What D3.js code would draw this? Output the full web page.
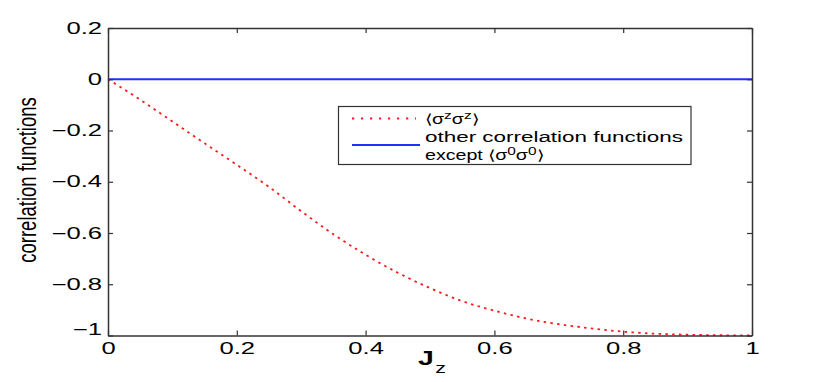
<!DOCTYPE html>
<html>
<head>
<meta charset="utf-8">
<script src="https://cdn.jsdelivr.net/npm/d3@7"></script>
<style>
  body { margin: 0; background: #fff; }
  svg text { font-family: "Liberation Sans", Arial, sans-serif; }
</style>
</head>
<body>
<svg id="chart" width="831" height="382"></svg>
<script>
// values
var jz = [0, 0.05, 0.1, 0.15, 0.2, 0.25, 0.3, 0.35, 0.4, 0.45, 0.5,
          0.55, 0.6, 0.65, 0.7, 0.75, 0.8, 0.85, 0.9, 0.95, 1];
var szsz = [0, -0.08, -0.165, -0.25, -0.334, -0.42, -0.515, -0.605, -0.685, -0.755, -0.815,
            -0.866, -0.903, -0.934, -0.956, -0.972, -0.985, -0.993, -0.997, -0.999, -1];
var others = [0, 0, 0, 0, 0, 0, 0, 0, 0, 0, 0, 0, 0, 0, 0, 0, 0, 0, 0, 0, 0];
var xTicks = [0, 0.2, 0.4, 0.6, 0.8, 1];
var yTicks = [-1, -0.8, -0.6, -0.4, -0.2, 0, 0.2];

var pLeft = 108, pRight = 752, pTop = 28, pBottom = 335.5;
var stretch = 1.6; // figure is widened horizontally

var svg = d3.select("#chart");

var x = d3.scaleLinear().domain([0, 1]).range([pLeft, pRight]);
var y = d3.scaleLinear().domain([-1, 0.2]).range([pBottom, pTop]);

function fmt(d) {
  if (d === 0) return "0";
  if (d === 1 || d === -1) return String(d).replace("-", "\u2212");
  return d3.format(".1f")(d).replace("-", "\u2212");
}

function widen(sel, k) {
  sel.each(function() {
    var w = this.getComputedTextLength();
    d3.select(this).attr("textLength", w * k).attr("lengthAdjust", "spacingAndGlyphs");
  });
}

// blue line (other correlation functions)
var line = d3.line().x(function(d, i) { return x(jz[i]); }).y(function(d) { return y(d); });

svg.append("path")
  .datum(others)
  .attr("d", line)
  .attr("fill", "none")
  .attr("stroke", "#1a33ff")
  .attr("stroke-width", 2);

svg.append("path")
  .datum(szsz)
  .attr("d", d3.line().curve(d3.curveMonotoneX).x(function(d, i) { return x(jz[i]); }).y(function(d) { return y(d); }))
  .attr("fill", "none")
  .attr("stroke", "#ff1a1a")
  .attr("stroke-width", 1.8)
  .attr("stroke-dasharray", "2.5,4.3");

// axes, matlab style box with inward ticks
var axColor = "#333";
var xAxis = svg.append("g").attr("transform", "translate(0," + pBottom + ")")
  .call(d3.axisBottom(x).tickValues(xTicks).tickSizeInner(-5).tickSizeOuter(0).tickPadding(7).tickFormat(fmt));
var xTop = svg.append("g").attr("transform", "translate(0," + pTop + ")")
  .call(d3.axisTop(x).tickValues(xTicks).tickSizeInner(-5).tickSizeOuter(0).tickFormat(""));
var yAxis = svg.append("g").attr("transform", "translate(" + pLeft + ",0)")
  .call(d3.axisLeft(y).tickValues(yTicks).tickSizeInner(-5).tickSizeOuter(0).tickPadding(6).tickFormat(fmt));
var yRight = svg.append("g").attr("transform", "translate(" + pRight + ",0)")
  .call(d3.axisRight(y).tickValues(yTicks).tickSizeInner(-5).tickSizeOuter(0).tickFormat(""));

[xAxis, xTop, yAxis, yRight].forEach(function(g) {
  g.select(".domain").attr("stroke", axColor).attr("stroke-width", 1.5);
  g.selectAll(".tick line").attr("stroke", axColor).attr("stroke-width", 1.2);
});

xAxis.selectAll("text").attr("font-size", 16).attr("fill", "#000").attr("dy", "0.7em");
yAxis.selectAll("text").attr("font-size", 16).attr("fill", "#000");
yAxis.selectAll(".tick").filter(function(d) { return d === -1; }).select("text").attr("dy", "-0.05em");
widen(xAxis.selectAll("text"), stretch);
widen(yAxis.selectAll("text"), stretch);

// axis titles
var xl = svg.append("text")
  .attr("x", 418).attr("y", 365)
  .attr("font-size", 20).attr("font-weight", "bold").attr("fill", "#000");
xl.append("tspan").text("J");
xl.append("tspan").attr("font-size", 15).attr("font-weight", "normal").attr("dy", 8).attr("dx", 1).text("z");
widen(xl, 1.5);

svg.append("g")
  .attr("transform", "translate(36,180) scale(1.35,1) rotate(-90)")
  .append("text")
  .attr("text-anchor", "middle")
  .attr("font-size", 18.5)
  .attr("fill", "#000")
  .text("correlation functions");

// legend
var legend = svg.append("g");
legend.append("rect")
  .attr("x", 338.5).attr("y", 106.5).attr("width", 352.5).attr("height", 58)
  .attr("fill", "#fff").attr("stroke", axColor).attr("stroke-width", 1.2);
legend.append("line")
  .attr("x1", 352).attr("x2", 416).attr("y1", 118.5).attr("y2", 118.5)
  .attr("stroke", "#ff1a1a").attr("stroke-width", 1.8).attr("stroke-dasharray", "2.2,6.8");
legend.append("line")
  .attr("x1", 352).attr("x2", 420).attr("y1", 145).attr("y2", 145)
  .attr("stroke", "#1a33ff").attr("stroke-width", 2);

var t1 = legend.append("text").attr("x", 425).attr("y", 124).attr("font-size", 14).attr("fill", "#000");
t1.append("tspan").text("\u27E8\u03C3");
t1.append("tspan").attr("dy", -5).attr("font-size", 11).text("z");
t1.append("tspan").attr("dy", 5).text("\u03C3");
t1.append("tspan").attr("dy", -5).attr("font-size", 11).text("z");
t1.append("tspan").attr("dy", 5).text("\u27E9");

legend.append("text").attr("x", 425).attr("y", 141.5).attr("font-size", 14).attr("fill", "#000")
  .text("other correlation functions")
  .attr("textLength", 258).attr("lengthAdjust", "spacingAndGlyphs");

var t3 = legend.append("text").attr("x", 425).attr("y", 160).attr("font-size", 14).attr("fill", "#000");
t3.append("tspan").text("except \u27E8\u03C3");
t3.append("tspan").attr("dy", -5).attr("font-size", 11).text("0");
t3.append("tspan").attr("dy", 5).text("\u03C3");
t3.append("tspan").attr("dy", -5).attr("font-size", 11).text("0");
t3.append("tspan").attr("dy", 5).text("\u27E9");

widen(t1, 1.4);
widen(t3, 1.4);
</script>
</body>
</html>
